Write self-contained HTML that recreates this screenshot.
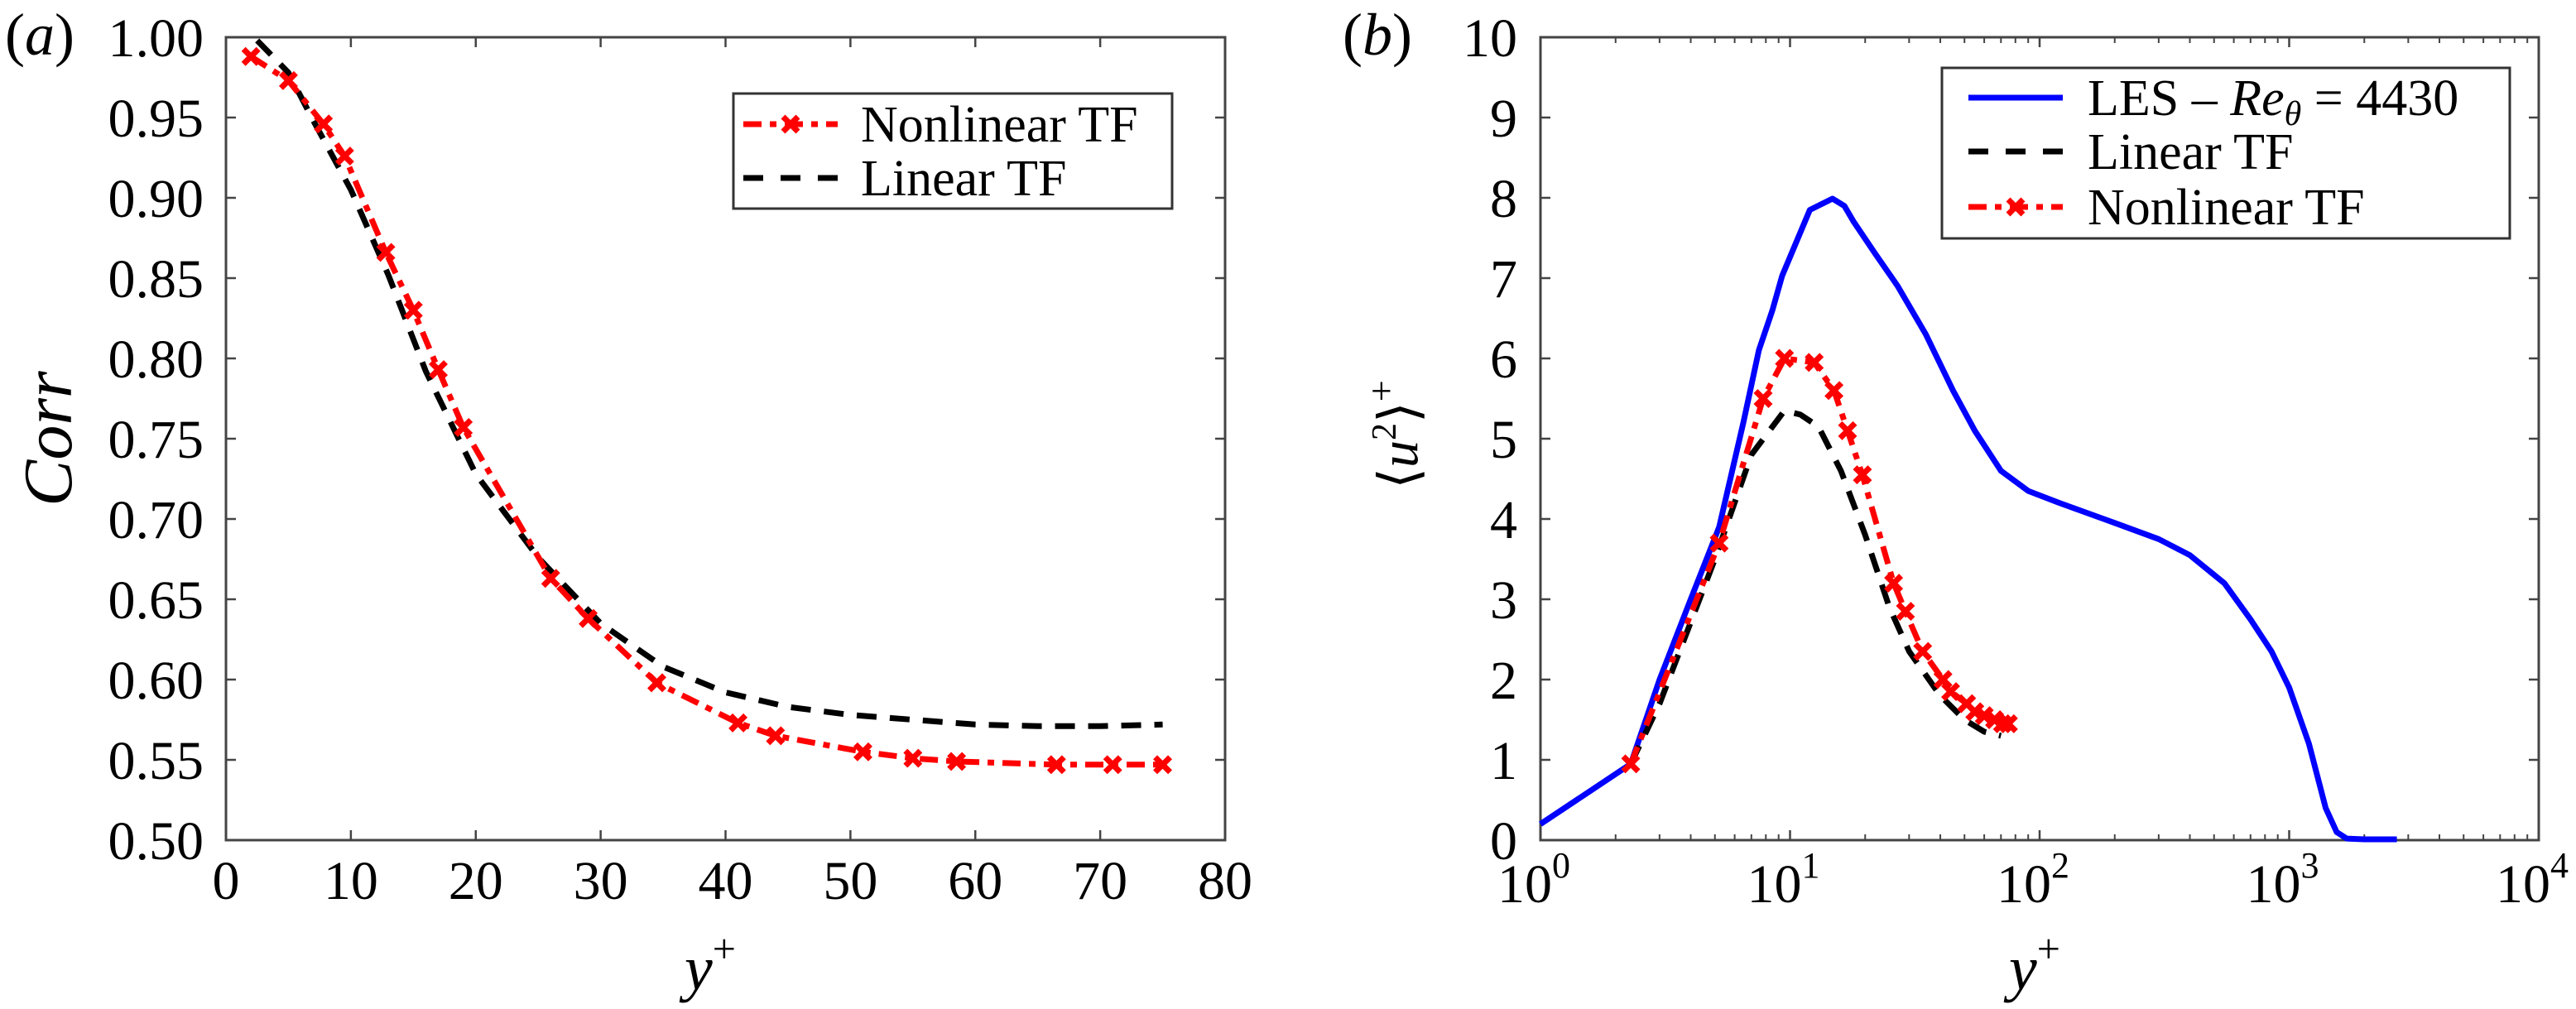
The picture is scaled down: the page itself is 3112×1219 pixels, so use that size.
<!DOCTYPE html>
<html><head><meta charset="utf-8">
<style>
html,body{margin:0;padding:0;background:#fff;}
svg{display:block;}
text{font-family:"Liberation Serif","DejaVu Serif",serif;}
</style></head>
<body>
<svg id="fig" width="3112" height="1219" viewBox="0 0 3112 1219" xmlns="http://www.w3.org/2000/svg" font-family="Liberation Serif, serif">
<rect width="3112" height="1219" fill="#fff"/>
<g id="pa"></g>
<g id="pb"></g>
</svg>
<script>
// ---- Panel (a) data ----
const aXTicks = [0,10,20,30,40,50,60,70,80];
const aYTicks = [0.50,0.55,0.60,0.65,0.70,0.75,0.80,0.85,0.90,0.95,1.00];
const aNonlinX = [2,5,7.8,9.5,12.8,15,17,19,26,29,34.5,41,44,51,55,58.5,66.5,71,75];
const aNonlinY = [0.988,0.973,0.946,0.926,0.866,0.830,0.793,0.757,0.663,0.638,0.598,0.573,0.565,0.555,0.551,0.549,0.547,0.547,0.547];
const aLinX = [2.5,5,7,10,13,16,20,25,30,35,40,45,50,55,60,65,70,75];
const aLinY = [0.998,0.978,0.948,0.905,0.852,0.792,0.728,0.676,0.635,0.608,0.592,0.583,0.578,0.575,0.572,0.571,0.571,0.572];
// ---- Panel (b) data ----
const bYTicks = [0,1,2,3,4,5,6,7,8,9,10];
const bXDecades = [0,1,2,3,4];
const lesX = [1,2.3,3,4,5.2,6.5,7.5,8.5,9.3,12,14.8,16.5,18,22,27,35,45,55,70,90,120,200,300,400,550,700,850,1000,1200,1400,1550,1700,2000,2700];
const lesY = [0.2,0.95,2.0,3.0,3.9,5.2,6.1,6.6,7.03,7.85,7.99,7.9,7.7,7.3,6.9,6.3,5.6,5.1,4.6,4.35,4.2,3.95,3.75,3.55,3.2,2.75,2.35,1.9,1.2,0.4,0.1,0.02,0.01,0.01];
const bLinX = [2.3,3,5,7,9.5,11,13,16,20,25,30,40,50,60,70];
const bLinY = [0.95,1.7,3.5,4.8,5.35,5.3,5.15,4.6,3.8,2.9,2.35,1.8,1.5,1.35,1.3];
const bNonX = [2.3,5.2,7.8,9.5,12.5,15,17,19.5,26,29,34,41,44,51,55,60,66,71,75];
const bNonY = [0.95,3.7,5.5,6.0,5.95,5.6,5.1,4.55,3.2,2.85,2.35,2.0,1.85,1.7,1.6,1.55,1.5,1.45,1.45];

const NS="http://www.w3.org/2000/svg";
const FF="Liberation Serif, serif";
function mk(parent,tag,attrs,text){const e=document.createElementNS(NS,tag);for(const k in attrs)e.setAttribute(k,attrs[k]);if(tag==="text")e.setAttribute("font-family",FF);if(text!==undefined)e.textContent=text;parent.appendChild(e);return e;}

const A={l:273,r:1480,t:45,b:1015};
const B={l:1861,r:3067,t:45,b:1015};
const ax=x=>A.l+(x-0)/80*(A.r-A.l);
const ay=v=>A.b-(v-0.5)/0.5*(A.b-A.t);
const bx=x=>B.l+Math.log10(x)/4*(B.r-B.l);
const by=v=>B.b-v/10*(B.b-B.t);

function poly(g,xs,ys,fx,fy,style,name){
  const p=xs.map((x,i)=>fx(x).toFixed(1)+","+fy(ys[i]).toFixed(1)).join(" ");
  const e=mk(g,"polyline",Object.assign({points:p,fill:"none","stroke-linejoin":"round"},style));
  
  
  return e;
}
function markers(g,xs,ys,fx,fy,name){
  const grp=mk(g,"g",{});
  
  
  xs.forEach((x,i)=>{const cx=fx(x),cy=fy(ys[i]),s=9;
    const m=mk(grp,"path",{d:`M${cx-s},${cy-s}L${cx+s},${cy+s}M${cx-s},${cy+s}L${cx+s},${cy-s}`,stroke:"#f00","stroke-width":7,fill:"none"});
    
    
  });
}
const redStyle={stroke:"#f00","stroke-width":7,"stroke-dasharray":"22,10,8,10"};
const blackStyle={stroke:"#000","stroke-width":7,"stroke-dasharray":"24,16"};
const blueStyle={stroke:"#00f","stroke-width":7};

// ===== Panel A =====
const ga=document.getElementById('pa');
mk(ga,"rect",{x:A.l,y:A.t,width:A.r-A.l,height:A.b-A.t,fill:"none",stroke:"#444","stroke-width":3});
aXTicks.forEach(t=>{const x=ax(t);
  mk(ga,"line",{x1:x,y1:A.b,x2:x,y2:A.b-12,stroke:"#444","stroke-width":2.5});
  mk(ga,"line",{x1:x,y1:A.t,x2:x,y2:A.t+12,stroke:"#444","stroke-width":2.5});
  const tl=mk(ga,"text",{x:x,y:1086,"font-size":66,"text-anchor":"middle"},String(t));
  
  
});
aYTicks.forEach(t=>{const y=ay(t);
  mk(ga,"line",{x1:A.l,y1:y,x2:A.l+12,y2:y,stroke:"#444","stroke-width":2.5});
  mk(ga,"line",{x1:A.r,y1:y,x2:A.r-12,y2:y,stroke:"#444","stroke-width":2.5});
  const tl=mk(ga,"text",{x:246,y:y+23,"font-size":66,"text-anchor":"end"},t.toFixed(2));
  
  
});
poly(ga,aLinX,aLinY,ax,ay,blackStyle,'linear-tf-line');
poly(ga,aNonlinX,aNonlinY,ax,ay,redStyle,'nonlinear-tf-line');
markers(ga,aNonlinX,aNonlinY,ax,ay,'nonlinear-tf-markers');
let t1=mk(ga,"text",{x:6,y:66,"font-size":72},"");
t1.innerHTML='(<tspan font-style="italic">a</tspan>)';


let ylab=mk(ga,"text",{x:0,y:0,"font-size":84,"font-style":"italic","text-anchor":"middle",transform:"translate(86,530) rotate(-90)"},"Corr");


let xlab=mk(ga,"text",{x:858,y:1195,"font-size":76,"text-anchor":"middle"},"");
xlab.innerHTML='<tspan font-style="italic">y</tspan><tspan font-size="50" dy="-32">+</tspan>';


const la=mk(ga,"g",{});


mk(la,"rect",{x:886,y:113,width:530,height:139,fill:"#fff",stroke:"#333","stroke-width":3});
let le1=mk(la,"g",{});


mk(le1,"line",{x1:898,y1:150,x2:1012,y2:150,stroke:"#f00","stroke-width":7,"stroke-dasharray":"22,10,8,10"});
mk(le1,"path",{d:"M946,141L964,159M946,159L964,141",stroke:"#f00","stroke-width":7});
mk(le1,"text",{x:1040,y:171,"font-size":62},"Nonlinear TF");
let le2=mk(la,"g",{});


mk(le2,"line",{x1:898,y1:215,x2:1012,y2:215,stroke:"#000","stroke-width":7,"stroke-dasharray":"24,21"});
mk(le2,"text",{x:1040,y:236,"font-size":62},"Linear TF");

// ===== Panel B =====
const gb=document.getElementById('pb');
mk(gb,"rect",{x:B.l,y:B.t,width:B.r-B.l,height:B.b-B.t,fill:"none",stroke:"#444","stroke-width":3});
bXDecades.forEach(d=>{const x=bx(Math.pow(10,d));
  mk(gb,"line",{x1:x,y1:B.b,x2:x,y2:B.b-12,stroke:"#444","stroke-width":2.5});
  mk(gb,"line",{x1:x,y1:B.t,x2:x,y2:B.t+12,stroke:"#444","stroke-width":2.5});
  if(d<4){for(let k=2;k<=9;k++){const xm=bx(k*Math.pow(10,d));
    mk(gb,"line",{x1:xm,y1:B.b,x2:xm,y2:B.b-7,stroke:"#444","stroke-width":2});
    mk(gb,"line",{x1:xm,y1:B.t,x2:xm,y2:B.t+7,stroke:"#444","stroke-width":2});}}
  const tl=mk(gb,"text",{x:x-8,y:1090,"font-size":66,"text-anchor":"middle"},"");
  tl.innerHTML='10<tspan font-size="44" dy="-30">'+d+'</tspan>';
  
  
});
bYTicks.forEach(t=>{const y=by(t);
  mk(gb,"line",{x1:B.l,y1:y,x2:B.l+12,y2:y,stroke:"#444","stroke-width":2.5});
  mk(gb,"line",{x1:B.r,y1:y,x2:B.r-12,y2:y,stroke:"#444","stroke-width":2.5});
  const tl=mk(gb,"text",{x:1833,y:y+23,"font-size":66,"text-anchor":"end"},String(t));
  
  
});
poly(gb,lesX,lesY,bx,by,blueStyle,'les-line');
poly(gb,bLinX,bLinY,bx,by,blackStyle,'linear-tf-line');
poly(gb,bNonX,bNonY,bx,by,redStyle,'nonlinear-tf-line');
markers(gb,bNonX,bNonY,bx,by,'nonlinear-tf-markers');
let t2=mk(gb,"text",{x:1622,y:66,"font-size":72},"");
t2.innerHTML='(<tspan font-style="italic">b</tspan>)';


let ylb=mk(gb,"text",{x:0,y:0,"font-size":66,"text-anchor":"middle",transform:"translate(1712,525) rotate(-90)"},"");
ylb.innerHTML='⟨<tspan font-style="italic">u</tspan><tspan font-size="42" dy="-26">2</tspan><tspan dy="26">⟩</tspan><tspan font-size="46" dy="-28">+</tspan>';


let xlb=mk(gb,"text",{x:2458,y:1195,"font-size":76,"text-anchor":"middle"},"");
xlb.innerHTML='<tspan font-style="italic">y</tspan><tspan font-size="50" dy="-32">+</tspan>';


const lb=mk(gb,"g",{});


mk(lb,"rect",{x:2346,y:82,width:686,height:206,fill:"#fff",stroke:"#333","stroke-width":3});
let e1=mk(lb,"g",{});


mk(e1,"line",{x1:2378,y1:118,x2:2492,y2:118,stroke:"#00f","stroke-width":7});
const tx=mk(e1,"text",{x:2522,y:139,"font-size":62},"");
tx.innerHTML='LES – <tspan font-style="italic">Re</tspan><tspan font-style="italic" font-size="42" dy="12">θ</tspan><tspan dy="-12"> = 4430</tspan>';
let e2=mk(lb,"g",{});


mk(e2,"line",{x1:2378,y1:183,x2:2492,y2:183,stroke:"#000","stroke-width":7,"stroke-dasharray":"24,21"});
mk(e2,"text",{x:2522,y:204,"font-size":62},"Linear TF");
let e3=mk(lb,"g",{});


mk(e3,"line",{x1:2378,y1:250,x2:2492,y2:250,stroke:"#f00","stroke-width":7,"stroke-dasharray":"22,10,8,10"});
mk(e3,"path",{d:"M2426,241L2444,259M2426,259L2444,241",stroke:"#f00","stroke-width":7});
mk(e3,"text",{x:2522,y:271,"font-size":62},"Nonlinear TF");
</script>
</body></html>
